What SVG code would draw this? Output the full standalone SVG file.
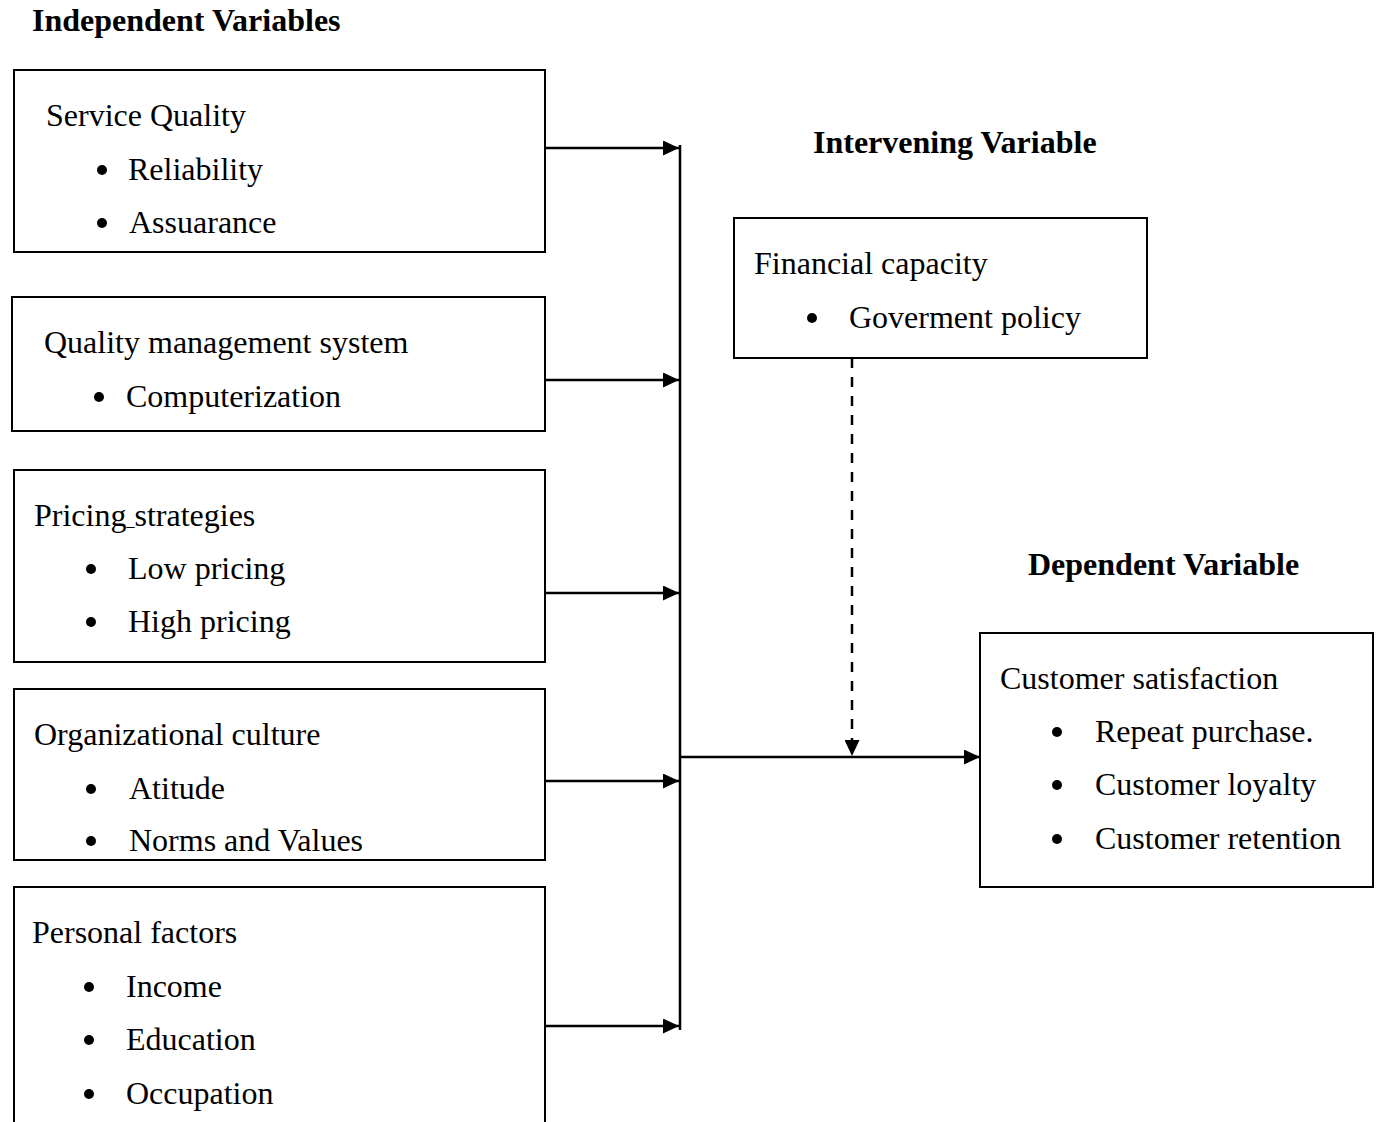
<svg xmlns="http://www.w3.org/2000/svg" width="1379" height="1122" viewBox="0 0 1379 1122">
<style>
text{font-family:"Liberation Serif","Times New Roman",serif;font-size:32px;fill:#000}
.h{font-weight:bold}
.box{fill:none;stroke:#000;stroke-width:2}
.ln{fill:none;stroke:#000;stroke-width:2.5}
.dash{stroke-dasharray:10 9}
</style>
<defs>
<marker id="ah" viewBox="0 0 16 15" refX="16" refY="7.5" markerWidth="16" markerHeight="15" markerUnits="userSpaceOnUse" orient="auto">
<path d="M0,0 L16,7.5 L0,15 z" fill="#000"/>
</marker>
<circle id="b" r="5" fill="#000"/>
</defs>
<rect width="1379" height="1122" fill="#fff"/>
<text class="h" x="32" y="31">Independent Variables</text>
<text class="h" x="813" y="153">Intervening Variable</text>
<text class="h" x="1028" y="575">Dependent Variable</text>

<g id="n1">
<rect class="box" x="14" y="70" width="531" height="182"/>
<text x="46" y="126">Service Quality</text>
<use href="#b" x="102" y="170"/><text x="128" y="180">Reliability</text>
<use href="#b" x="102" y="223"/><text x="129" y="233">Assuarance</text>
</g>
<g id="n2">
<rect class="box" x="12" y="297" width="533" height="134"/>
<text x="44" y="353">Quality management system</text>
<use href="#b" x="99" y="397"/><text x="126" y="407">Computerization</text>
</g>
<g id="n3">
<rect class="box" x="14" y="470" width="531" height="192"/>
<text x="34" y="526">Pricing<tspan font-size="16">_</tspan>strategies</text>
<use href="#b" x="91" y="569"/><text x="128" y="579">Low pricing</text>
<use href="#b" x="91" y="622"/><text x="128" y="632">High pricing</text>
</g>
<g id="n4">
<rect class="box" x="14" y="689" width="531" height="171"/>
<text x="34" y="745">Organizational culture</text>
<use href="#b" x="91" y="789"/><text x="129" y="799">Atitude</text>
<use href="#b" x="91" y="841"/><text x="129" y="851">Norms and Values</text>
</g>
<g id="n5">
<path class="box" d="M14,1124 V887 H545 V1124"/>
<text x="32" y="943">Personal factors</text>
<use href="#b" x="89" y="987"/><text x="126" y="997">Income</text>
<use href="#b" x="89" y="1040"/><text x="126" y="1050">Education</text>
<use href="#b" x="89" y="1094"/><text x="126" y="1104">Occupation</text>
</g>
<g id="n6">
<rect class="box" x="734" y="218" width="413" height="140"/>
<text x="754" y="274">Financial capacity</text>
<use href="#b" x="812" y="318"/><text x="849" y="328">Goverment policy</text>
</g>
<g id="n7">
<rect class="box" x="980" y="633" width="393" height="254"/>
<text x="1000" y="689">Customer satisfaction</text>
<use href="#b" x="1057" y="732"/><text x="1095" y="742">Repeat purchase.</text>
<use href="#b" x="1057" y="785"/><text x="1095" y="795">Customer loyalty</text>
<use href="#b" x="1057" y="839"/><text x="1095" y="849">Customer retention</text>
</g>

<g id="connectors">
<line class="ln" x1="680" y1="145" x2="680" y2="1030"/>
<line class="ln" x1="545" y1="148" x2="679" y2="148" marker-end="url(#ah)"/>
<line class="ln" x1="545" y1="380" x2="679" y2="380" marker-end="url(#ah)"/>
<line class="ln" x1="545" y1="593" x2="679" y2="593" marker-end="url(#ah)"/>
<line class="ln" x1="545" y1="781" x2="679" y2="781" marker-end="url(#ah)"/>
<line class="ln" x1="545" y1="1026" x2="679" y2="1026" marker-end="url(#ah)"/>
<line class="ln" x1="680" y1="757" x2="980" y2="757" marker-end="url(#ah)"/>
<line class="ln dash" x1="852" y1="358" x2="852" y2="756" marker-end="url(#ah)"/>
</g>
</svg>
